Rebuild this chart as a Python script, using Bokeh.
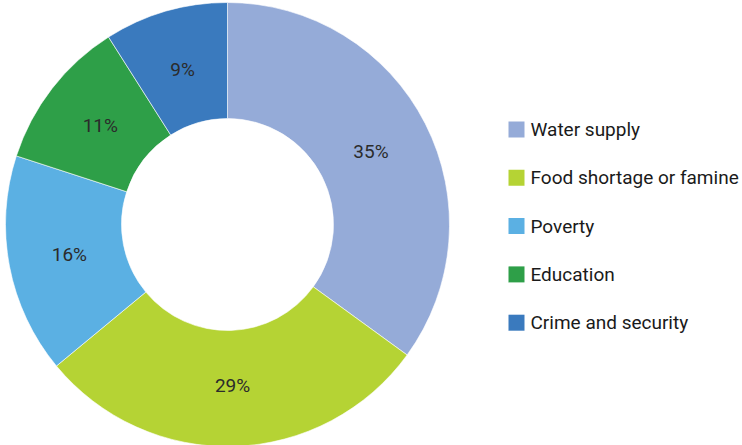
import math
from bokeh.plotting import figure
from bokeh.models import Range1d, ColumnDataSource
from bokeh.core.properties import value
from bokeh.embed import file_html
from bokeh.resources import INLINE

categories = ["Water supply", "Food shortage or famine", "Poverty", "Education", "Crime and security"]
percents = [35, 29, 16, 11, 9]
colors = ["#95ABD8", "#B5D334", "#5BB0E3", "#2E9F48", "#3A7ABE"]

W, H = 742, 445
cx, cy = 227, H - 224
r_out, r_in = 222, 106
r_lab = 161

total = sum(percents)
starts, ends, lx, ly, labels = [], [], [], [], []
cum = 0.0
for v in percents:
    a0 = math.pi / 2 - 2 * math.pi * cum / total
    a1 = math.pi / 2 - 2 * math.pi * (cum + v) / total
    starts.append(a0)
    ends.append(a1)
    mid = (a0 + a1) / 2
    lx.append(cx + r_lab * math.cos(mid))
    ly.append(cy + r_lab * math.sin(mid))
    labels.append(f"{v}%")
    cum += v

src = ColumnDataSource(dict(start=starts, end=ends, color=colors, lx=lx, ly=ly, label=labels, cat=categories))

p = figure(width=W, height=H, x_range=Range1d(0, W), y_range=Range1d(0, H),
           output_backend="svg", toolbar_location=None, min_border=0)
p.axis.visible = False
p.grid.visible = False
p.outline_line_color = None
p.background_fill_color = "white"

p.annular_wedge(x=cx, y=cy, inner_radius=r_in, outer_radius=r_out,
                start_angle="start", end_angle="end", direction="clock",
                fill_color="color", line_color="white", line_width=0.6, source=src)

p.text(x="lx", y="ly", text="label", source=src, text_align="center", text_baseline="middle",
       text_font=value("Roboto"), text_font_size="19px", text_color="#2b2b2b")

# legend
leg_x, leg_y0, leg_dy = 516, H - 129, 48.3
lgx = [leg_x] * len(categories)
lgy = [leg_y0 - i * leg_dy for i in range(len(categories))]
lsrc = ColumnDataSource(dict(x=lgx, y=lgy, tx=[leg_x + 14] * len(categories), cat=categories, color=colors))
p.rect(x="x", y="y", width=16, height=16, width_units="screen", height_units="screen",
       fill_color="color", line_color=None, source=lsrc)
p.text(x="tx", y="y", text="cat", source=lsrc, text_align="left", text_baseline="middle",
       text_font=value("Roboto"), text_font_size="19px", text_color="#1a1a1a")

open("out.html", "w").write(file_html(p, INLINE))
